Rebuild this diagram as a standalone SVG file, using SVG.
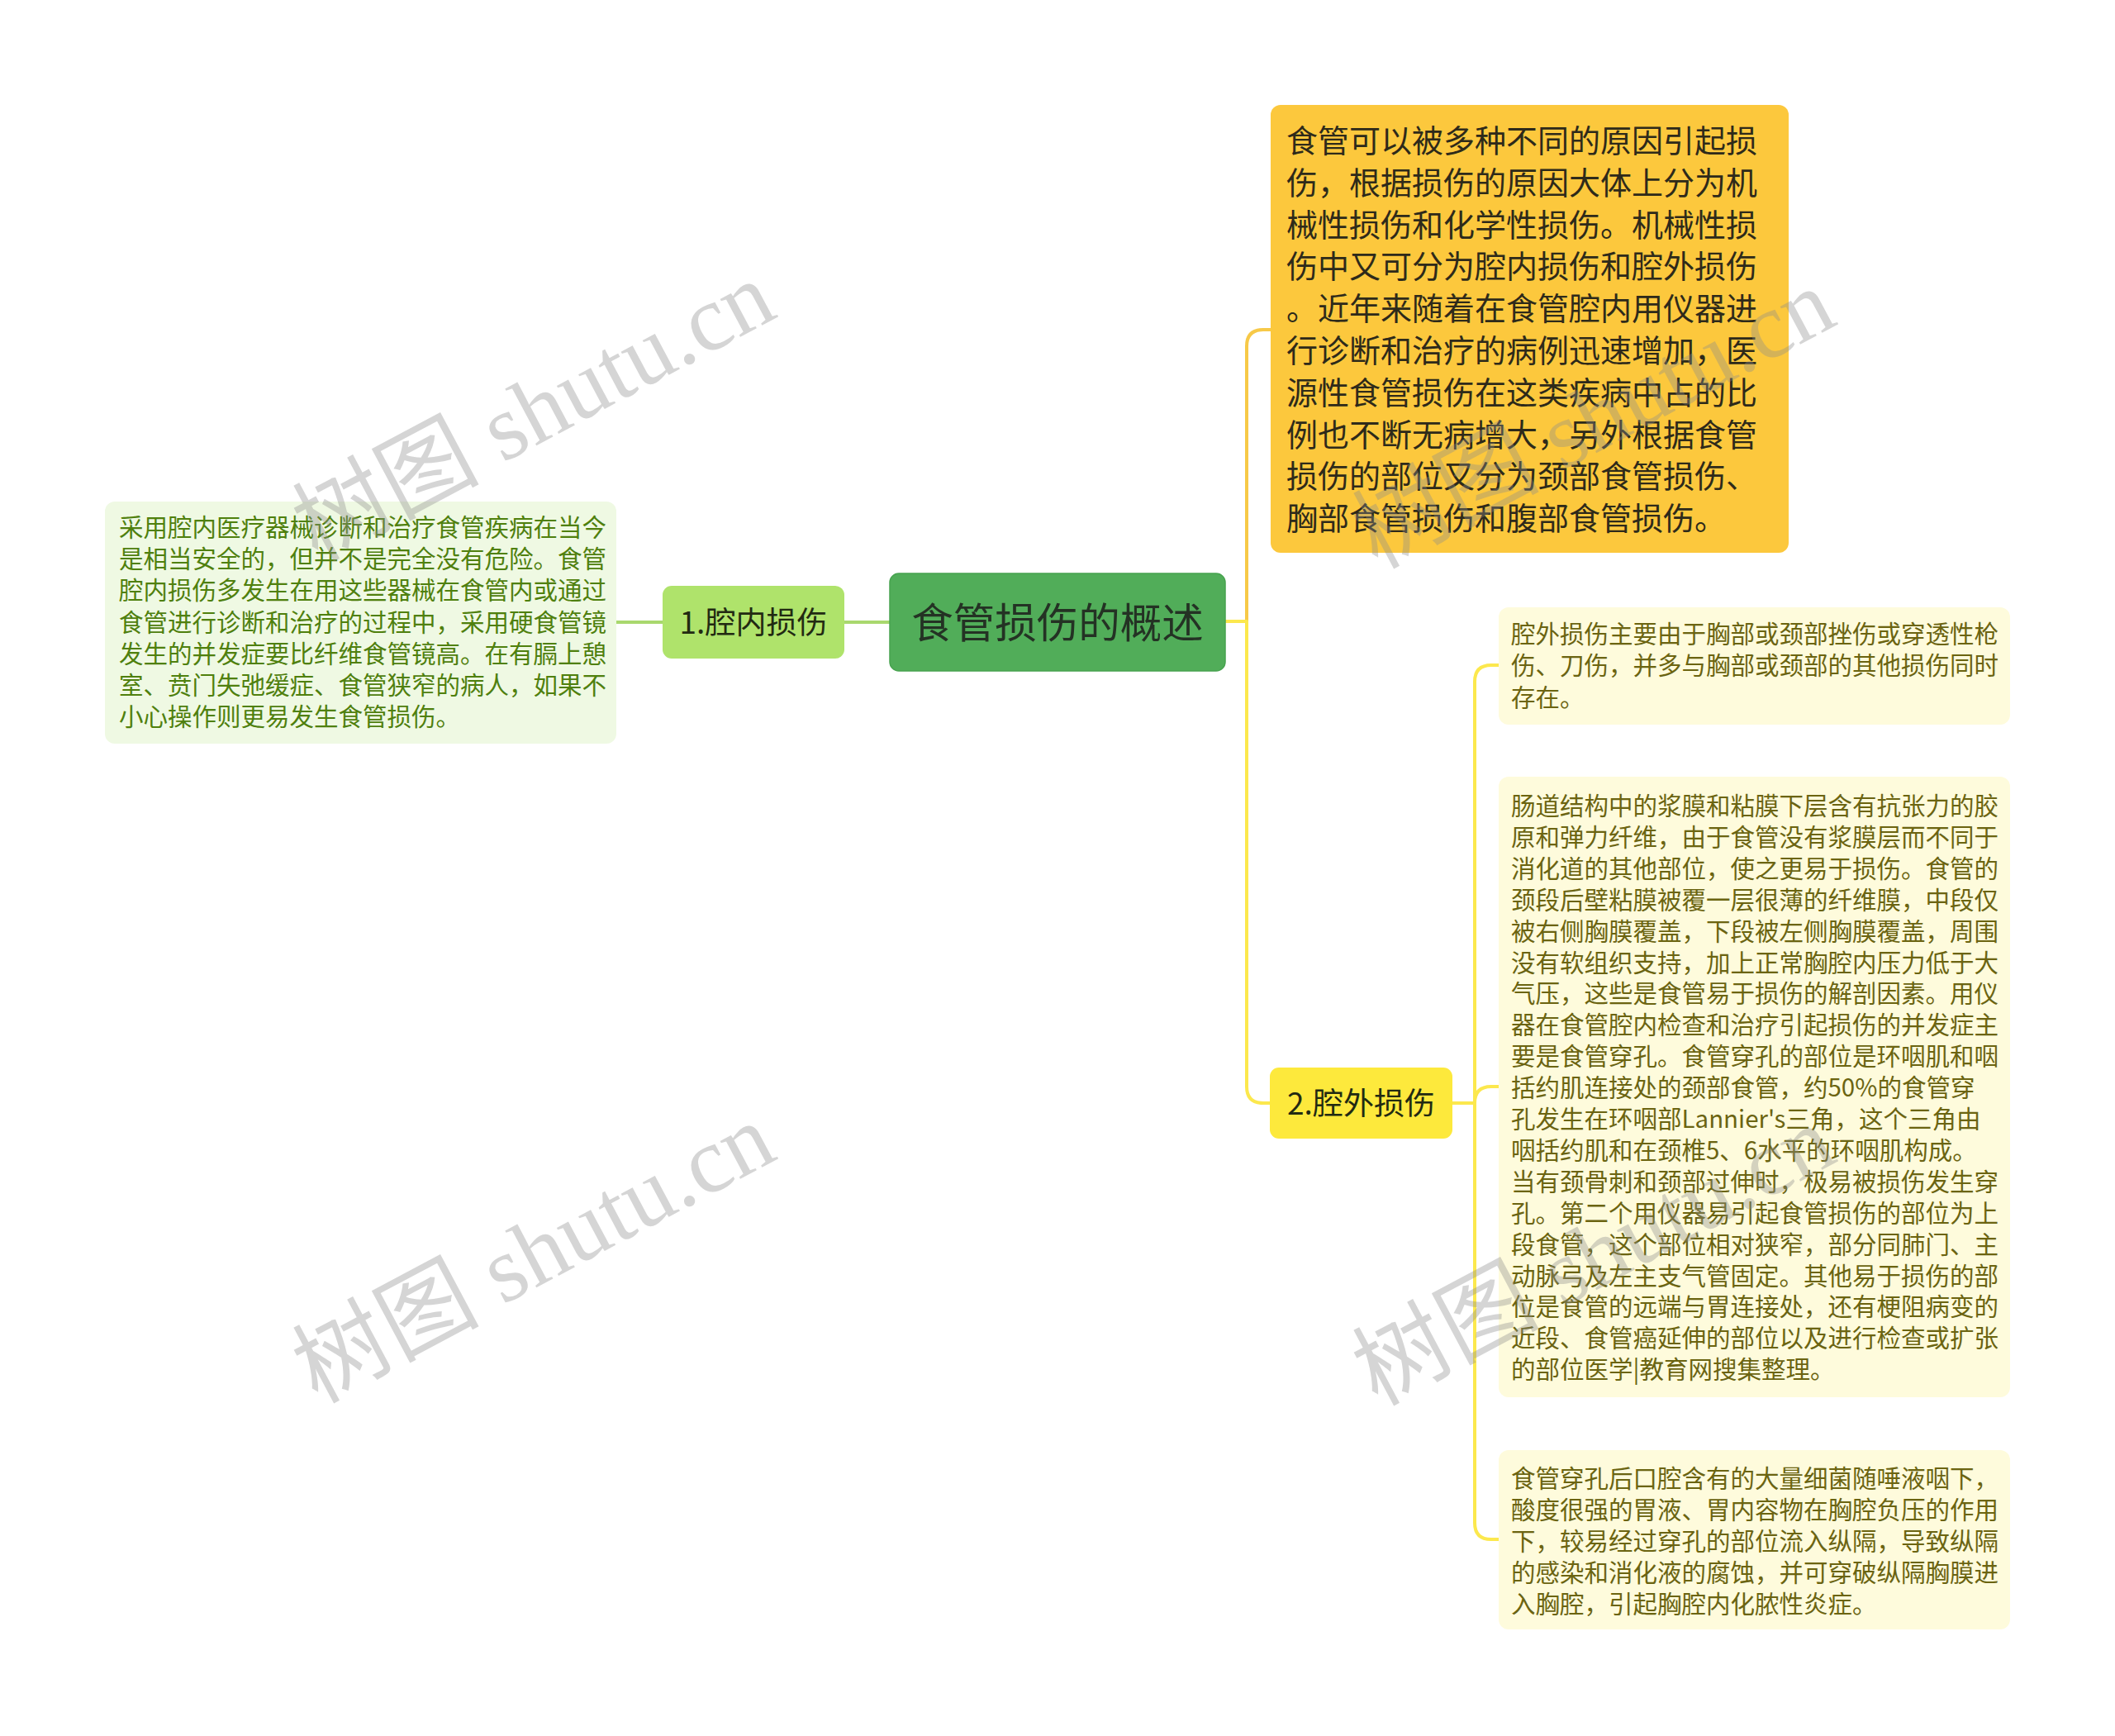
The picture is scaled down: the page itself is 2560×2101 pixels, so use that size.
<svg xmlns="http://www.w3.org/2000/svg" width="2560" height="2101" viewBox="0 0 2560 2101">
<style>
.ln{fill:none;stroke-width:4;stroke-linecap:round;stroke-linejoin:round}
.g{stroke:#a9d86e}
.o{stroke:#f7c948}
.y{stroke:#fce84d}
text{font-family:"Noto Sans CJK SC","Noto Sans",sans-serif}
.t29{font-size:29.5px}
.t38{font-size:38px}
.lb{font-size:37px;fill:#222a12}
.wm{font-family:"Liberation Serif","Noto Sans CJK SC",serif;font-size:113px;fill:#8c8c8c;opacity:0.36}
</style>
<rect width="2560" height="2101" fill="#ffffff"/>
<g id="connectors">
<path class="ln g" d="M746,753 H802"/>
<path class="ln g" d="M1022,753 H1077"/>
<path class="ln o" d="M1483,752 H1509 V419 Q1509,399 1529,399 H1538"/>
<path class="ln y" d="M1483,752 H1509 V1315 Q1509,1335 1529,1335 H1537"/>
<path class="ln y" d="M1758,1335 H1785 V825 Q1785,805 1805,805 H1814"/>
<path class="ln y" d="M1758,1335 H1785 Q1785,1315 1805,1315 H1814"/>
<path class="ln y" d="M1758,1335 H1785 V1843 Q1785,1863 1805,1863 H1814"/>
</g>
<g id="root">
<rect x="1077" y="694" width="406" height="118" rx="11" fill="#51ad59" stroke="#47a34f" stroke-width="1.5"/>
<text x="1280" y="772" text-anchor="middle" font-size="50.5" fill="#243224">食管损伤的概述</text>
</g>
<g id="node-inner">
<rect x="802" y="709" width="220" height="88" rx="11" fill="#afe36b"/>
<text x="912" y="767" text-anchor="middle" class="lb">1.腔内损伤</text>
</g>
<g id="note-inner">
<rect x="127" y="607" width="619" height="293" rx="12" fill="#eff9e3"/>
<g class="t29" fill="#4f800e">
<text x="144" y="649">采用腔内医疗器械诊断和治疗食管疾病在当今</text>
<text x="144" y="687">是相当安全的，但并不是完全没有危险。食管</text>
<text x="144" y="725">腔内损伤多发生在用这些器械在食管内或通过</text>
<text x="144" y="764">食管进行诊断和治疗的过程中，采用硬食管镜</text>
<text x="144" y="802">发生的并发症要比纤维食管镜高。在有膈上憩</text>
<text x="144" y="840">室、贲门失弛缓症、食管狭窄的病人，如果不</text>
<text x="144" y="878">小心操作则更易发生食管损伤。</text>
</g>
</g>
<g id="note-summary">
<rect x="1538" y="127" width="627" height="542" rx="12" fill="#fcc83d"/>
<g class="t38" fill="#2e2a1a">
<text x="1557" y="184">食管可以被多种不同的原因引起损</text>
<text x="1557" y="235">伤，根据损伤的原因大体上分为机</text>
<text x="1557" y="286">械性损伤和化学性损伤。机械性损</text>
<text x="1557" y="336">伤中又可分为腔内损伤和腔外损伤</text>
<text x="1557" y="387">。近年来随着在食管腔内用仪器进</text>
<text x="1557" y="438">行诊断和治疗的病例迅速增加，医</text>
<text x="1557" y="489">源性食管损伤在这类疾病中占的比</text>
<text x="1557" y="540">例也不断无病增大，另外根据食管</text>
<text x="1557" y="590">损伤的部位又分为颈部食管损伤、</text>
<text x="1557" y="641">胸部食管损伤和腹部食管损伤。</text>
</g>
</g>
<g id="node-outer">
<rect x="1537" y="1292" width="221" height="86" rx="11" fill="#fde93c"/>
<text x="1647.5" y="1349" text-anchor="middle" class="lb">2.腔外损伤</text>
</g>
<g id="note-outer-1">
<rect x="1814" y="735" width="619" height="142" rx="12" fill="#fefbdc"/>
<g class="t29" fill="#6b6411">
<text x="1829" y="778">腔外损伤主要由于胸部或颈部挫伤或穿透性枪</text>
<text x="1829" y="816">伤、刀伤，并多与胸部或颈部的其他损伤同时</text>
<text x="1829" y="855">存在。</text>
</g>
</g>
<g id="note-outer-2">
<rect x="1814" y="940" width="619" height="751" rx="12" fill="#fefbdc"/>
<g class="t29" fill="#6b6411">
<text x="1829" y="986">肠道结构中的浆膜和粘膜下层含有抗张力的胶</text>
<text x="1829" y="1024">原和弹力纤维，由于食管没有浆膜层而不同于</text>
<text x="1829" y="1062">消化道的其他部位，使之更易于损伤。食管的</text>
<text x="1829" y="1100">颈段后壁粘膜被覆一层很薄的纤维膜，中段仅</text>
<text x="1829" y="1138">被右侧胸膜覆盖，下段被左侧胸膜覆盖，周围</text>
<text x="1829" y="1176">没有软组织支持，加上正常胸腔内压力低于大</text>
<text x="1829" y="1213">气压，这些是食管易于损伤的解剖因素。用仪</text>
<text x="1829" y="1251">器在食管腔内检查和治疗引起损伤的并发症主</text>
<text x="1829" y="1289">要是食管穿孔。食管穿孔的部位是环咽肌和咽</text>
<text x="1829" y="1327">括约肌连接处的颈部食管，约50%的食管穿</text>
<text x="1829" y="1365">孔发生在环咽部Lannier's三角，这个三角由</text>
<text x="1829" y="1403">咽括约肌和在颈椎5、6水平的环咽肌构成。</text>
<text x="1829" y="1441">当有颈骨刺和颈部过伸时，极易被损伤发生穿</text>
<text x="1829" y="1479">孔。第二个用仪器易引起食管损伤的部位为上</text>
<text x="1829" y="1517">段食管，这个部位相对狭窄，部分同肺门、主</text>
<text x="1829" y="1555">动脉弓及左主支气管固定。其他易于损伤的部</text>
<text x="1829" y="1592">位是食管的远端与胃连接处，还有梗阻病变的</text>
<text x="1829" y="1630">近段、食管癌延伸的部位以及进行检查或扩张</text>
<text x="1829" y="1668">的部位医学|教育网搜集整理。</text>
</g>
</g>
<g id="note-outer-3">
<rect x="1814" y="1755" width="619" height="217" rx="12" fill="#fefbdc"/>
<g class="t29" fill="#6b6411">
<text x="1829" y="1800">食管穿孔后口腔含有的大量细菌随唾液咽下，</text>
<text x="1829" y="1838">酸度很强的胃液、胃内容物在胸腔负压的作用</text>
<text x="1829" y="1876">下，较易经过穿孔的部位流入纵隔，导致纵隔</text>
<text x="1829" y="1914">的感染和消化液的腐蚀，并可穿破纵隔胸膜进</text>
<text x="1829" y="1952">入胸腔，引起胸腔内化脓性炎症。</text>
</g>
</g>
<g id="watermarks">
<text class="wm" text-anchor="middle" transform="translate(645,496) rotate(-28)" y="40">树图 shutu.cn</text>
<text class="wm" text-anchor="middle" transform="translate(645,1515) rotate(-28)" y="40">树图 shutu.cn</text>
<text class="wm" text-anchor="middle" transform="translate(1928,505) rotate(-28)" y="40">树图 shutu.cn</text>
<text class="wm" text-anchor="middle" transform="translate(1928,1518) rotate(-28)" y="40">树图 shutu.cn</text>
</g>
</svg>
